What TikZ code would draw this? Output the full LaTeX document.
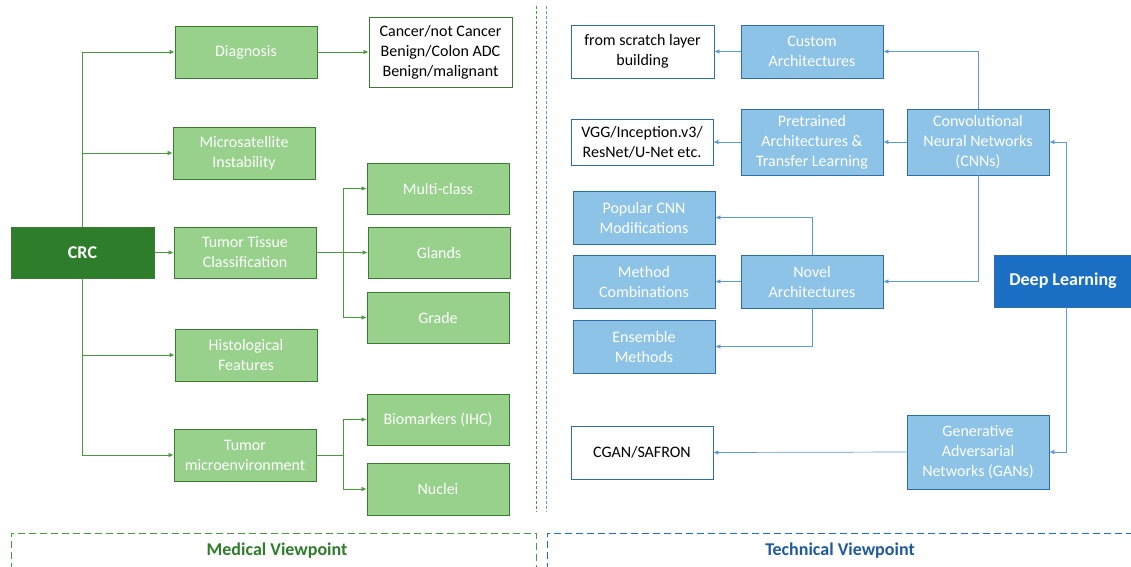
\documentclass[tikz,border=0pt]{standalone}
\usepackage{fontspec}
\setmainfont{Carlito}
\usetikzlibrary{arrows.meta,calc}
\definecolor{gfill}{HTML}{97D18B}
\definecolor{gdraw}{HTML}{3B7A33}
\definecolor{gdark}{HTML}{2E7D2A}
\definecolor{gline}{HTML}{4A9A40}
\definecolor{bfill}{HTML}{8DC3E6}
\definecolor{bdraw}{HTML}{2E6DA8}
\definecolor{bdark}{HTML}{1A6FC4}
\definecolor{bline}{HTML}{5B9BD5}
\definecolor{btitle}{HTML}{1F5A9E}
\tikzset{
  every node/.style={font=\fontsize{16}{20}\selectfont, align=center, inner sep=0pt},
  gbox/.style={draw=gdraw, fill=gfill, text=white, line width=0.9pt},
  gout/.style={draw=gdraw, fill=white, text=black, line width=0.9pt},
  bbox/.style={draw=bdraw, fill=bfill, text=white, line width=0.9pt},
  bout/.style={draw=bdraw, fill=white, text=black, line width=0.9pt},
  garrow/.style={draw=gline, line width=0.7pt, -{Latex[length=5pt,width=4.5pt]}},
  barrow/.style={draw=bline, line width=0.7pt, -{Latex[length=5pt,width=4.5pt]}},
}
\begin{document}
\begin{tikzpicture}[x=1pt,y=-1pt]
\useasboundingbox (0,0) rectangle (1131,566);
% ---------- Medical side ----------
\node[draw=gdraw, fill=gdark, text=white, line width=0.9pt, minimum width=143pt, minimum height=51pt, font=\fontsize{18}{22}\selectfont\bfseries] (crc) at (82.5,252.5) {CRC};
\node[gbox, minimum width=142pt, minimum height=52pt] (diag) at (246,52) {Diagnosis};
\node[gbox, minimum width=142pt, minimum height=52pt] (msi) at (244,153) {Microsatellite\\Instability};
\node[gbox, minimum width=142pt, minimum height=51pt] (ttc) at (245,252.5) {Tumor Tissue\\Classification};
\node[gbox, minimum width=142pt, minimum height=52pt] (hist) at (246,355) {Histological\\Features};
\node[gbox, minimum width=142pt, minimum height=52pt] (tme) at (245,455) {Tumor\\microenvironment};
\node[gout, minimum width=143pt, minimum height=70pt] (dout) at (440.5,52) {Cancer/not Cancer\\Benign/Colon ADC\\Benign/malignant};
\node[gbox, minimum width=142pt, minimum height=51pt] (mc) at (438,188.5) {Multi-class};
\node[gbox, minimum width=142pt, minimum height=51pt] (gl) at (439,252.5) {Glands};
\node[gbox, minimum width=142pt, minimum height=51pt] (gr) at (438,317.5) {Grade};
\node[gbox, minimum width=142pt, minimum height=51pt] (bio) at (438,419.5) {Biomarkers (IHC)};
\node[gbox, minimum width=142pt, minimum height=52pt] (nuc) at (438,489) {Nuclei};
\draw[garrow] (crc.north) |- (diag.west);
\draw[garrow] (crc.north) |- (msi.west);
\draw[garrow] (crc.east) -- (ttc.west);
\draw[garrow] (crc.south) |- (hist.west);
\draw[garrow] (crc.south) |- (tme.west);
\draw[garrow] (diag.east) -- (dout.west);
\draw[garrow] (ttc.east) -- (gl.west);
\draw[garrow] (ttc.east) -- ++(27,0) coordinate (tj) |- (mc.west);
\draw[garrow] (tj) |- (gr.west);
\draw[garrow] (tme.east) -- ++(27,0) coordinate (mj) |- (bio.west);
\draw[garrow] (mj) |- (nuc.west);
% ---------- Technical side ----------
\node[bout, minimum width=143pt, minimum height=53pt] (scr) at (642.5,51.5) {from scratch layer\\building};
\node[bbox, minimum width=142pt, minimum height=53pt] (cust) at (812,51.5) {Custom\\Architectures};
\node[bout, minimum width=142pt, minimum height=46pt] (vgg) at (642,142) {VGG/Inception.v3/\\ResNet/U-Net etc.};
\node[bbox, minimum width=142pt, minimum height=66pt] (pre) at (812,142) {Pretrained\\Architectures \&\\Transfer Learning};
\node[bbox, minimum width=142pt, minimum height=66pt] (cnn) at (978,142) {Convolutional\\Neural Networks\\(CNNs)};
\node[bbox, minimum width=142pt, minimum height=53pt] (pop) at (644,217.5) {Popular CNN\\Modifications};
\node[bbox, minimum width=142pt, minimum height=53pt] (meth) at (644,281.5) {Method\\Combinations};
\node[bbox, minimum width=142pt, minimum height=53pt] (nov) at (812,281.5) {Novel\\Architectures};
\node[bbox, minimum width=142pt, minimum height=53pt] (ens) at (644,346.5) {Ensemble\\Methods};
\node[draw=bdraw, fill=bdark, text=white, line width=0.9pt, minimum width=137pt, minimum height=52pt, font=\fontsize{18}{22}\selectfont\bfseries] (dl) at (1063,281) {Deep Learning};
\node[bout, minimum width=142pt, minimum height=53pt] (cgan) at (642,452.5) {CGAN/SAFRON};
\node[bbox, minimum width=142pt, minimum height=74pt] (gan) at (978,452) {Generative\\Adversarial\\Networks (GANs)};
\coordinate (dltop) at ($(dl.north)+(3,0)$);
\coordinate (dlbot) at ($(dl.south)+(3,0)$);
\draw[barrow] (dltop) |- (cnn.east);
\draw[barrow] (dlbot) |- (gan.east);
\draw[barrow] (cnn.north) |- (cust.east);
\draw[barrow] (cnn.west) -- (pre.east);
\draw[barrow] (cnn.south) |- (nov.east);
\draw[barrow] (cust.west) -- (scr.east);
\draw[barrow] (pre.west) -- (vgg.east);
\draw[barrow] (nov.north) |- (pop.east);
\draw[barrow] (nov.west) -- (meth.east);
\draw[barrow] (nov.south) |- (ens.east);
\draw[barrow] (gan.west) -- (cgan.east);
% ---------- dividers and viewpoints ----------
\coordinate (gv1) at (536,6); \coordinate (gv2) at (536,512);
\coordinate (bv1) at (546,6); \coordinate (bv2) at (546,512);
\draw[gline, line width=0.8pt, dash pattern=on 3pt off 2pt] (gv1) -- (gv2);
\draw[bline, line width=0.8pt, dash pattern=on 3pt off 2pt] (bv1) -- (bv2);
\draw[gline, line width=1pt, dash pattern=on 7pt off 4pt] (11,570) -- (11,533) -- (536,533) -- (536,570);
\draw[bdark, line width=1pt, dash pattern=on 7pt off 4pt] (547,570) -- (547,533) -- (1136,533);
\node[text=gdark, font=\fontsize{18}{22}\selectfont\bfseries] (medv) at (277,551) {Medical Viewpoint};
\node[text=btitle, font=\fontsize{18}{22}\selectfont\bfseries] (techv) at (840,551) {Technical Viewpoint};
\end{tikzpicture}
\end{document}
